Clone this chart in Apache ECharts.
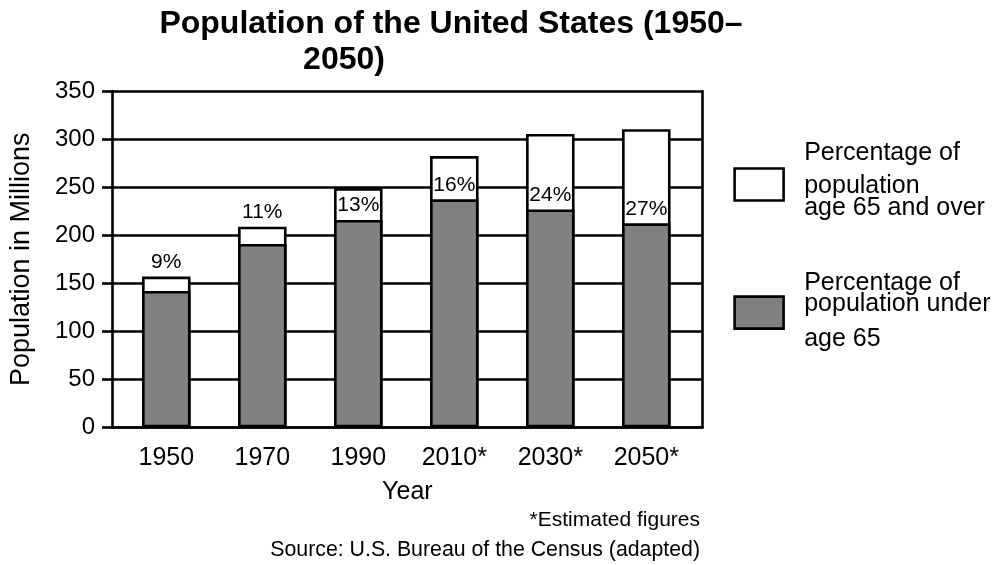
<!DOCTYPE html>
<html><head><meta charset="utf-8">
<script src="https://cdn.jsdelivr.net/npm/echarts@6/dist/echarts.min.js"></script>
<style>html,body{margin:0;padding:0;background:#fff}#c{width:1005px;height:565px}</style>
</head><body><div id="c"></div>
<script>
// ---- data ----
const years = ['1950', '1970', '1990', '2010*', '2030*', '2050*'];
const under65 = [142, 191, 216, 237.5, 227, 212.5];
const over65 = [15, 18, 33, 45, 78.5, 98];
const pctLabels = ['9%', '11%', '13%', '16%', '24%', '27%'];
const yMin = 0, yMax = 350, yStep = 50;
const titleLine1 = 'Population of the United States (1950\u2013';
const titleLine2 = '2050)';
const yName = 'Population in Millions';
const xName = 'Year';
const note1 = '*Estimated figures';
const note2 = 'Source: U.S. Bureau of the Census (adapted)';
const overName = 'Percentage of population age 65 and over';
const underName = 'Percentage of population under age 65';

// total height of each bar (under 65 + 65 and over)
const totals = under65.map(function (v, i) { return v + over65[i]; });

// ---- style ----
const FF = 'Liberation Sans';
const LW = 2.6;
const black = '#000';
const gray = '#808080';
const SMALL = 25; // segment too short to hold its label inside

const chart = echarts.init(document.getElementById('c'), null, {renderer: 'canvas'});
const gridFrame = {left: 110, right: 302.3, top: 91.3, bottom: 137.7};
const gridBars = {left: 118.3, right: 310.7, top: 91.3, bottom: 137.7};
const pctLabelStyle = {fontFamily: FF, fontSize: 21, color: black, distance: 4};

chart.setOption({
  backgroundColor: '#fff',
  animation: false,
  title: [
    {text: titleLine1, left: 451, top: 8, textAlign: 'center', padding: 0,
     textStyle: {fontFamily: FF, fontWeight: 'bold', fontSize: 32, color: black}},
    {text: titleLine2, left: 344, top: 44, textAlign: 'center', padding: 0,
     textStyle: {fontFamily: FF, fontWeight: 'bold', fontSize: 32, color: black}},
    {text: note1, left: 700, top: 510, textAlign: 'right', padding: 0,
     textStyle: {fontFamily: FF, fontWeight: 'normal', fontSize: 21, color: black}},
    {text: note2, left: 700, top: 540, textAlign: 'right', padding: 0,
     textStyle: {fontFamily: FF, fontWeight: 'normal', fontSize: 21.3, color: black}}
  ],
  legend: {
    orient: 'vertical', left: 733.3, top: 140.7, padding: 0, itemGap: 50.4,
    itemWidth: 49, itemHeight: 32, icon: 'rect', selectedMode: false,
    data: [
      {name: overName, itemStyle: {color: '#fff', borderColor: black, borderWidth: LW},
       textStyle: {padding: [0, 0, 18.6, 15.6]}},
      {name: underName, itemStyle: {color: gray, borderColor: black, borderWidth: LW},
       textStyle: {padding: [12, 0, 0, 15.6]}}
    ],
    formatter: function (n) {
      return n === overName
        ? '{p|Percentage of}\n{q|population}\n{q|age 65 and over}'
        : '{s|Percentage of}\n{s|population under}\n{t|age 65}';
    },
    textStyle: {
      fontFamily: FF, fontSize: 25, color: black,
      rich: {
        p: {fontFamily: FF, fontSize: 25, color: black, lineHeight: 44},
        q: {fontFamily: FF, fontSize: 25, color: black, lineHeight: 22},
        s: {fontFamily: FF, fontSize: 25, color: black, lineHeight: 21},
        t: {fontFamily: FF, fontSize: 25, color: black, lineHeight: 49}
      }
    }
  },
  grid: [
    Object.assign({containLabel: false}, gridFrame),
    Object.assign({containLabel: false}, gridBars)
  ],
  xAxis: [
    {gridIndex: 0, type: 'value', min: 0, max: 1,
     axisLine: {show: true, onZero: false, lineStyle: {color: black, width: LW}},
     axisTick: {show: false}, axisLabel: {show: false}, splitLine: {show: false},
     name: xName, nameLocation: 'middle', nameGap: 52,
     nameTextStyle: {fontFamily: FF, fontSize: 25, color: black}},
    {gridIndex: 1, type: 'category', data: years, boundaryGap: true,
     axisLine: {show: false}, axisTick: {show: false}, splitLine: {show: false},
     axisLabel: {fontFamily: FF, fontSize: 25, color: black, margin: 18}}
  ],
  yAxis: [
    {gridIndex: 0, type: 'value', min: yMin, max: yMax, interval: yStep, position: 'left',
     axisLine: {show: true, onZero: false, lineStyle: {color: black, width: LW}},
     axisTick: {show: true, length: 10, lineStyle: {color: black, width: LW}},
     axisLabel: {fontFamily: FF, fontSize: 24, color: black, margin: 17},
     splitLine: {show: true, lineStyle: {color: black, width: LW}},
     name: yName, nameLocation: 'middle', nameGap: 77, nameRotate: 90,
     nameTextStyle: {fontFamily: FF, fontSize: 27, color: black}},
    {gridIndex: 0, type: 'value', min: yMin, max: yMax, interval: yStep, position: 'right',
     axisLine: {show: true, onZero: false, lineStyle: {color: black, width: LW}},
     axisTick: {show: false}, axisLabel: {show: false}, splitLine: {show: false}},
    {gridIndex: 1, type: 'value', min: yMin, max: yMax, interval: yStep, show: false}
  ],
  series: [
    // full bar (white); its visible part is the 65-and-over segment
    {name: overName, type: 'bar', xAxisIndex: 1, yAxisIndex: 2, barWidth: 48.5,
     data: totals.map(function (v, i) {
       return {value: v, label: {show: over65[i] < SMALL}};
     }),
     itemStyle: {color: '#fff', borderColor: black, borderWidth: LW},
     label: Object.assign({position: 'top',
       formatter: function (p) { return pctLabels[p.dataIndex]; }}, pctLabelStyle)},
    // under-65 bar (gray), drawn over the white one
    {name: underName, type: 'bar', xAxisIndex: 1, yAxisIndex: 2, barWidth: 48.5,
     barGap: '-100%',
     data: under65.map(function (v, i) {
       return {value: v, label: {show: over65[i] >= SMALL}};
     }),
     itemStyle: {color: gray, borderColor: black, borderWidth: LW},
     label: Object.assign({position: 'top',
       formatter: function (p) { return pctLabels[p.dataIndex]; }}, pctLabelStyle)}
  ]
});
</script></body></html>
